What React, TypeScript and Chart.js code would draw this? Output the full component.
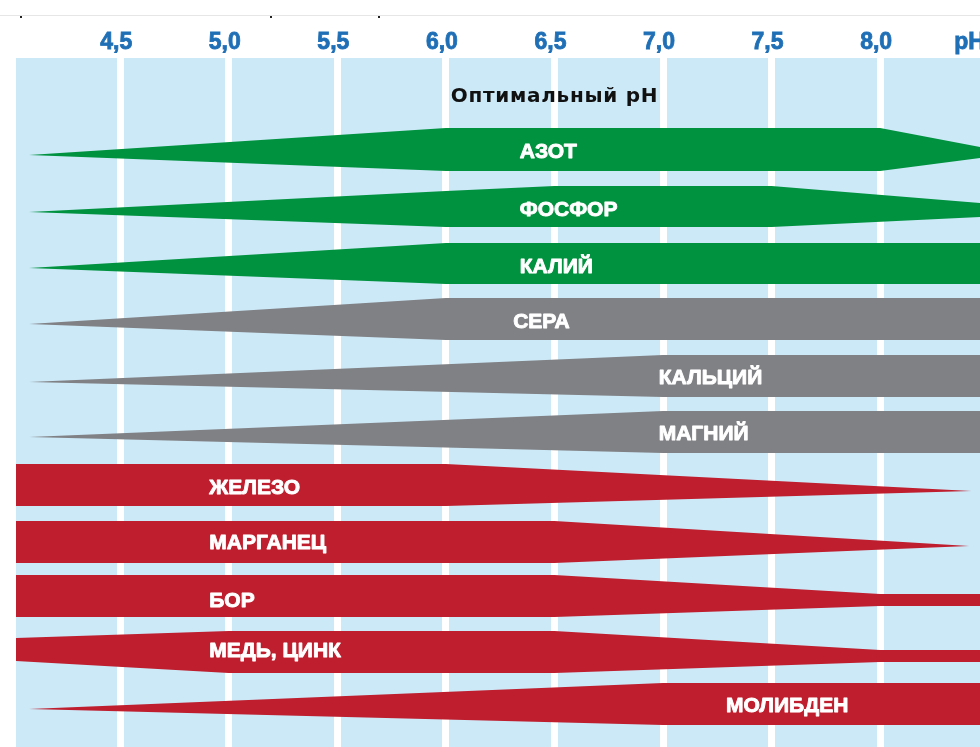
import React, { useEffect, useRef } from "react";
import { Chart, registerables } from "chart.js";

Chart.register(...registerables);

// Axis ticks (pH)
const tickValues = [4.5, 5.0, 5.5, 6.0, 6.5, 7.0, 7.5, 8.0, 8.43];
const tickLabels = ["4,5", "5,0", "5,5", "6,0", "6,5", "7,0", "7,5", "8,0", "pH"];
const phMin = 4.02;
const phMax = 8.46;
const rowMin = -1.748;
const rowMax = 10.667;

// Nutrients (rows, top to bottom)
const nutrients = ["АЗОТ", "ФОСФОР", "КАЛИЙ", "СЕРА", "КАЛЬЦИЙ", "МАГНИЙ", "ЖЕЛЕЗО", "МАРГАНЕЦ", "БОР", "МЕДЬ, ЦИНК", "МОЛИБДЕН"];
const groupOf = ["macro", "macro", "macro", "secondary", "secondary", "secondary", "micro", "micro", "micro", "micro", "micro"];
const groupColors: Record<string, string> = { macro: "#00923f", secondary: "#808184", micro: "#be1e2d" };

// Band edges: pH breakpoints, upper edge and lower edge (row units)
const azotPH = [4.08, 6.0, 8.0, 8.46];
const azotTop = [0, -0.486, -0.486, -0.144];
const azotBottom = [0, 0.288, 0.288, 0.054];

const fosforPH = [4.08, 6.0, 6.5, 7.5, 8.46];
const fosforTop = [1.027, 0.649, 0.559, 0.559, 0.865];
const fosforBottom = [1.027, 1.297, 1.297, 1.297, 1.117];

const kaliyPH = [4.08, 6.0, 8.46];
const kaliyTop = [2.036, 1.586, 1.586];
const kaliyBottom = [2.036, 2.324, 2.324];

const seraPH = [4.08, 6.0, 8.46];
const seraTop = [3.045, 2.577, 2.577];
const seraBottom = [3.045, 3.333, 3.333];

const kalciyPH = [4.08, 7.0, 8.46];
const kalciyTop = [4.09, 3.604, 3.604];
const kalciyBottom = [4.09, 4.36, 4.36];

const magniyPH = [4.08, 7.0, 8.46];
const magniyTop = [5.081, 4.613, 4.613];
const magniyBottom = [5.081, 5.369, 5.369];

const zhelezoPH = [4.02, 6.0, 8.42];
const zhelezoTop = [5.568, 5.568, 6.054];
const zhelezoBottom = [6.324, 6.324, 6.054];

const marganecPH = [4.02, 6.5, 8.41];
const marganecTop = [6.595, 6.595, 7.045];
const marganecBottom = [7.351, 7.351, 7.045];

const borPH = [4.02, 6.5, 8.0, 8.46];
const borTop = [7.568, 7.568, 7.91, 7.91];
const borBottom = [8.324, 8.324, 8.126, 8.126];

const medPH = [4.02, 5.0, 6.5, 8.0, 8.46];
const medTop = [8.703, 8.577, 8.577, 8.919, 8.919];
const medBottom = [9.117, 9.333, 9.333, 9.135, 9.135];

const molibdenPH = [4.08, 7.0, 8.46];
const molibdenTop = [9.982, 9.514, 9.514];
const molibdenBottom = [9.982, 10.27, 10.27];

// Label anchors (left edge pH, row)
const labelPH = [6.34, 6.34, 6.34, 6.31, 6.98, 6.98, 4.91, 4.91, 4.91, 4.91, 7.29];
const labelRow = [-0.076, 0.964, 1.982, 2.982, 3.991, 5.0, 5.973, 6.964, 8.009, 8.919, 9.91];

const titleText = "Оптимальный pH";
const titlePH = 6.5;
const titleRow = -0.955;

const bandPH = [azotPH, fosforPH, kaliyPH, seraPH, kalciyPH, magniyPH, zhelezoPH, marganecPH, borPH, medPH, molibdenPH];
const bandTop = [azotTop, fosforTop, kaliyTop, seraTop, kalciyTop, magniyTop, zhelezoTop, marganecTop, borTop, medTop, molibdenTop];
const bandBottom = [azotBottom, fosforBottom, kaliyBottom, seraBottom, kalciyBottom, magniyBottom, zhelezoBottom, marganecBottom, borBottom, medBottom, molibdenBottom];

const App: React.FC = () => {
  const canvasRef = useRef<HTMLCanvasElement | null>(null);

  useEffect(() => {
    if (!canvasRef.current) return;
    const datasets: any[] = [];
    nutrients.forEach((name, i) => {
      const color = groupColors[groupOf[i]];
      const ph = bandPH[i];
      datasets.push({
        label: name + " top",
        data: ph.map((x, k) => ({ x, y: bandTop[i][k] })),
        borderColor: "rgba(0,0,0,0)",
        borderWidth: 0,
        pointRadius: 0,
        fill: false,
      });
      datasets.push({
        label: name,
        data: ph.map((x, k) => ({ x, y: bandBottom[i][k] })),
        borderColor: "rgba(0,0,0,0)",
        backgroundColor: color,
        borderWidth: 0,
        pointRadius: 0,
        fill: "-1",
      });
    });

    const decor = {
      id: "decor",
      beforeDraw(chart: any) {
        const { ctx, chartArea } = chart;
        ctx.save();
        ctx.fillStyle = "#ffffff";
        ctx.fillRect(0, 0, chart.width, chart.height);
        ctx.fillStyle = "#e6e6e6";
        ctx.fillRect(0, 15, chart.width, 1);
        ctx.fillStyle = "#222222";
        [20, 270, 378].forEach((x) => ctx.fillRect(x, 16, 2, 2));
        ctx.fillStyle = "#cce9f8";
        ctx.fillRect(chartArea.left, chartArea.top, chartArea.right - chartArea.left, chartArea.bottom - chartArea.top);
        ctx.restore();
      },
      afterDatasetsDraw(chart: any) {
        const { ctx } = chart;
        const xs = chart.scales.x;
        const ys = chart.scales.y;
        ctx.save();
        ctx.fillStyle = "#ffffff";
        ctx.strokeStyle = "#ffffff";
        ctx.lineWidth = 0.9;
        ctx.lineJoin = "round";
        ctx.font = "bold 21px 'Liberation Sans', Arial, sans-serif";
        ctx.textAlign = "left";
        ctx.textBaseline = "alphabetic";
        nutrients.forEach((name, i) => {
          const x = xs.getPixelForValue(labelPH[i]);
          const y = ys.getPixelForValue(labelRow[i]) + 7.5;
          ctx.fillText(name, x, y);
          ctx.strokeText(name, x, y);
        });
        ctx.fillStyle = "#111111";
        ctx.font = "bold 20px 'DejaVu Sans', sans-serif";
        (ctx as any).letterSpacing = "0.7px";
        ctx.textAlign = "center";
        ctx.fillText(titleText, xs.getPixelForValue(titlePH), ys.getPixelForValue(titleRow));
        ctx.restore();
      },
    };

    const chart = new Chart(canvasRef.current, {
      type: "line",
      data: { datasets },
      options: {
        animation: false,
        responsive: false,
        maintainAspectRatio: false,
        layout: { padding: { left: 16, right: 0, top: 0, bottom: 0 } },
        plugins: { legend: { display: false }, tooltip: { enabled: false } },
        elements: { line: { tension: 0 } },
        scales: {
          x: {
            type: "linear",
            position: "top",
            min: phMin,
            max: phMax,
            afterBuildTicks: (s: any) => {
              s.ticks = tickValues.map((v) => ({ value: v }));
            },
            afterFit: (s: any) => {
              s.height = 58;
              s.paddingLeft = 0;
              s.paddingRight = 0;
            },
            ticks: {
              autoSkip: false,
              maxRotation: 0,
              padding: 2,
              labelOffset: -4,
              color: "#1f6fb6",
              textStrokeColor: "#1f6fb6",
              textStrokeWidth: 0.8,
              font: { family: "'Liberation Sans', Arial, sans-serif", size: 23, weight: "bold" },
              callback: (_v: any, i: number) => tickLabels[i],
            },
            grid: {
              drawTicks: false,
              lineWidth: 7,
              color: (c: any) => (c.tick && c.tick.value > 8.2 ? "rgba(0,0,0,0)" : "#ffffff"),
            },
            border: { display: false },
          },
          y: {
            type: "linear",
            reverse: true,
            min: rowMin,
            max: rowMax,
            display: false,
          },
        },
      },
      plugins: [decor],
    } as any);

    return () => chart.destroy();
  }, []);

  return (
    <div style={{ position: "absolute", left: 0, top: 0, width: 980, height: 747 }}>
      <canvas ref={canvasRef} width={980} height={747} style={{ display: "block" }} />
    </div>
  );
};

export default App;
